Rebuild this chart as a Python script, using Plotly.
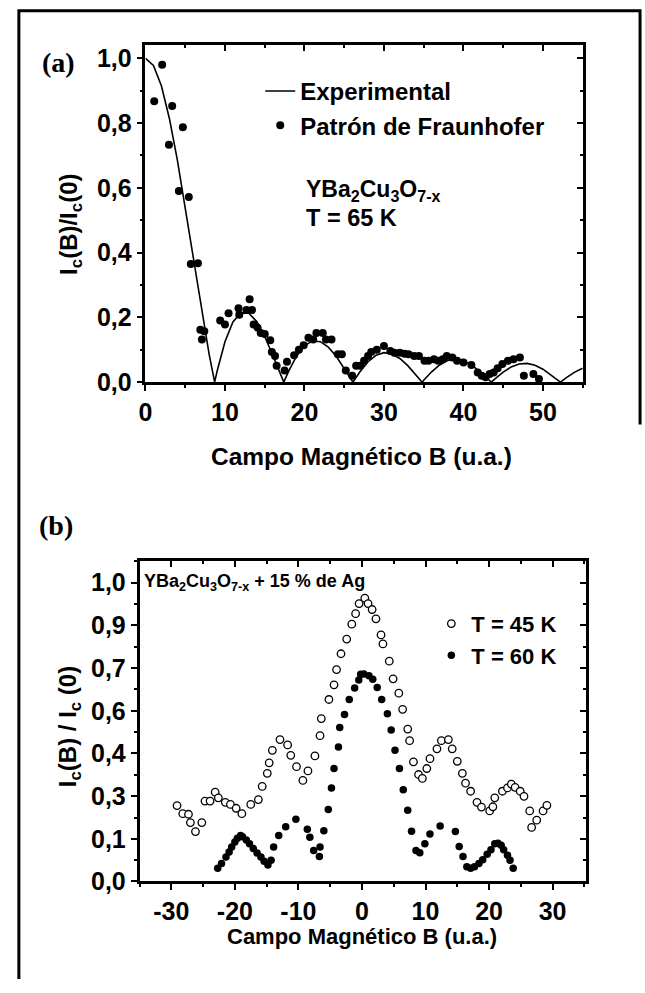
import plotly.graph_objects as go

W, H = 645, 993

# ---------------- Panel (a) data ----------------
exp_B = [0, 1, 2, 3, 4, 5, 6, 7, 8, 8.7,
         9, 10, 11, 12, 13, 14, 15, 16, 17, 17.4,
         18, 19, 20, 21, 22, 23, 24, 25, 26, 26.1,
         27, 28, 29, 30, 31, 32, 33, 34, 34.8,
         35, 36, 37, 38, 39, 40, 41, 42, 43, 43.5,
         44, 45, 46, 47, 48, 49, 50, 51, 52, 52.2,
         53, 54, 55]
exp_I = [1.0, 0.978, 0.915, 0.815, 0.687, 0.538, 0.382, 0.227, 0.087, 0.0,
         0.033, 0.125, 0.186, 0.214, 0.213, 0.187, 0.141, 0.084, 0.023, 0.0,
         0.033, 0.080, 0.113, 0.127, 0.125, 0.108, 0.080, 0.042, 0.004, 0.0,
         0.033, 0.063, 0.083, 0.091, 0.087, 0.073, 0.051, 0.023, 0.0,
         0.006, 0.032, 0.053, 0.067, 0.071, 0.066, 0.053, 0.034, 0.012, 0.0,
         0.011, 0.031, 0.047, 0.056, 0.058, 0.052, 0.040, 0.023, 0.004, 0.0,
         0.015, 0.031, 0.043]

fr_B = [1.1, 2.1, 2.95, 3.36, 4.2, 4.7, 5.45, 5.7, 6.6, 6.9, 7.1, 7.4,
        9.4, 10.0, 10.45, 11.7, 11.8, 12.7, 13.1, 13.4, 13.6, 14.1, 14.5, 15.0,
        15.7, 15.9, 16.3, 16.5, 17.5, 17.8, 18.7, 19.3, 19.9, 20.5, 21.1, 21.5,
        22.3, 22.7, 23.4, 24.2, 24.7, 25.2, 26.0, 26.5, 27.0, 27.5, 28.0, 28.4,
        29.1, 30.0, 30.8, 31.3, 32.0, 32.6, 33.1, 33.8, 34.4, 35.1, 35.6, 36.3,
        36.8, 37.4, 37.9, 38.6, 39.2, 40.0, 41.0, 41.8, 42.3, 42.8, 43.3, 43.8,
        44.3, 44.9, 45.6, 46.3, 47.1, 47.6, 48.8, 49.5]
fr_I = [0.867, 0.98, 0.733, 0.853, 0.59, 0.787, 0.572, 0.365, 0.367, 0.162, 0.132, 0.157,
        0.19, 0.178, 0.213, 0.228, 0.208, 0.223, 0.256, 0.223, 0.178, 0.168, 0.152, 0.149,
        0.129, 0.093, 0.081, 0.051, 0.036, 0.063, 0.083, 0.10, 0.114, 0.137, 0.132, 0.152,
        0.152, 0.132, 0.132, 0.086, 0.086, 0.036, 0.02, 0.051, 0.051, 0.066, 0.081, 0.093,
        0.10, 0.112, 0.096, 0.091, 0.091, 0.088, 0.086, 0.081, 0.081, 0.066, 0.066, 0.071,
        0.066, 0.071, 0.081, 0.076, 0.066, 0.061, 0.053, 0.030, 0.020, 0.015, 0.025, 0.030,
        0.043, 0.056, 0.066, 0.071, 0.076, 0.020, 0.025, 0.010]

a_xticks = [0, 10, 20, 30, 40, 50]
a_xticktext = ["0", "10", "20", "30", "40", "50"]
a_yticks = [0.0, 0.2, 0.4, 0.6, 0.8, 1.0]
a_yticktext = ["0,0", "0,2", "0,4", "0,6", "0,8", "1,0"]

# ---------------- Panel (b) data ----------------
t45_B = [-29.1, -28.2, -27.3, -27.0, -26.2, -25.2, -24.7, -23.9, -23.1, -22.6, -21.5,
         -20.7, -19.8, -18.9, -17.5, -16.3, -15.7, -14.9, -14.6, -14.1, -12.9, -11.7,
         -11.2, -10.3, -9.3, -8.5, -7.4, -6.6, -6.4, -5.2, -4.4, -4.0, -3.3, -2.4,
         -1.6, -1.0, -0.45, 0.45, 0.96, 1.6, 2.2, 3.0, 3.3, 4.3, 4.9, 5.8, 6.4, 7.2,
         7.5, 8.1, 8.9, 9.5, 10.2, 10.7, 11.8, 12.5, 13.6, 14.2, 15.0, 15.8, 16.3,
         17.1, 18.1, 18.8, 20.1, 20.6, 20.9, 22.1, 22.9, 23.5, 24.1, 24.9, 25.5,
         26.4, 26.7, 27.5, 28.5, 29.1]
t45_I = [0.254, 0.227, 0.225, 0.197, 0.167, 0.197, 0.269, 0.269, 0.299, 0.280, 0.265,
         0.258, 0.245, 0.227, 0.258, 0.274, 0.318, 0.362, 0.397, 0.439, 0.475, 0.457,
         0.422, 0.384, 0.338, 0.370, 0.420, 0.488, 0.545, 0.609, 0.658, 0.709, 0.762, 0.811,
         0.861, 0.896, 0.930, 0.948, 0.930, 0.910, 0.879, 0.825, 0.795, 0.737, 0.678, 0.630,
         0.576, 0.510, 0.471, 0.400, 0.358, 0.345, 0.378, 0.411, 0.444, 0.471, 0.475, 0.444,
         0.402, 0.362, 0.329, 0.302, 0.265, 0.249, 0.236, 0.250, 0.280, 0.302, 0.313, 0.326,
         0.315, 0.302, 0.285, 0.236, 0.181, 0.205, 0.236, 0.255]

t60_B = [-22.7, -22.1, -21.4, -20.9, -20.5, -20.0, -19.6, -19.1, -18.8, -18.2, -17.7,
         -17.1, -16.5, -15.9, -15.4, -14.8, -14.3, -13.9, -13.1, -12.0, -10.4, -8.6,
         -8.2, -7.6, -6.7, -6.6, -6.0, -5.3, -4.8, -4.4, -3.7, -3.5, -2.75, -2.0,
         -1.15, -0.5, -0.2, 0.3, 1.1, 1.7, 2.4, 3.1, 4.0, 4.6, 5.2, 5.9, 6.5, 7.2,
         7.8, 8.5, 9.1, 9.9, 10.7, 12.3, 14.7, 15.3, 15.9, 16.5, 17.1, 17.7, 18.4,
         19.0, 19.7, 20.3, 20.9, 21.4, 21.9, 22.3, 22.9, 23.3, 23.8]
t60_I = [0.044, 0.060, 0.082, 0.099, 0.115, 0.132, 0.145, 0.154, 0.150, 0.139, 0.126,
         0.110, 0.095, 0.082, 0.068, 0.055, 0.071, 0.115, 0.154, 0.183, 0.208, 0.175,
         0.148, 0.104, 0.084, 0.115, 0.170, 0.241, 0.313, 0.378, 0.450, 0.515, 0.559, 0.609,
         0.647, 0.674, 0.693, 0.694, 0.688, 0.677, 0.649, 0.609, 0.561, 0.507, 0.439, 0.378,
         0.307, 0.238, 0.168, 0.104, 0.096, 0.126, 0.159, 0.186, 0.167, 0.117, 0.084, 0.049,
         0.044, 0.049, 0.060, 0.073, 0.091, 0.106, 0.126, 0.128, 0.121, 0.106, 0.088, 0.071,
         0.044]

b_xticks = [-30, -20, -10, 0, 10, 20, 30]
b_xticktext = ["-30", "-20", "-10", "0", "10", "20", "30"]
b_yticks = [0.0, 0.143, 0.286, 0.429, 0.571, 0.714, 0.857, 1.0]
b_yticktext = ["0,0", "0,1", "0,3", "0,4", "0,6", "0,7", "0,9", "1,0"]
b_yminor = [0.071, 0.214, 0.357, 0.5, 0.643, 0.786, 0.929, 1.071]


def px(x):
    return x / W


def py(y):
    return 1 - y / H


FONT = "Liberation Sans, Arial, sans-serif"
SERIF = "Liberation Serif, Times New Roman, serif"
BLACK = "black"

fig = go.Figure()

# panel (a) traces
fig.add_trace(go.Scatter(x=exp_B, y=exp_I, mode="lines", name="Experimental",
                         line=dict(color=BLACK, width=1.6), xaxis="x", yaxis="y",
                         legend="legend", cliponaxis=False))
fig.add_trace(go.Scatter(x=fr_B, y=fr_I, mode="markers", name="Patrón de Fraunhofer",
                         marker=dict(color=BLACK, size=8, symbol="circle"),
                         xaxis="x", yaxis="y", legend="legend", cliponaxis=False))
# panel (b) traces
fig.add_trace(go.Scatter(x=t45_B, y=t45_I, mode="markers", name="T = 45 K",
                         marker=dict(color="white", size=7.5, symbol="circle",
                                     line=dict(color=BLACK, width=1.3)),
                         xaxis="x2", yaxis="y2", legend="legend2", cliponaxis=False))
fig.add_trace(go.Scatter(x=t60_B, y=t60_I, mode="markers", name="T = 60 K",
                         marker=dict(color=BLACK, size=7.5, symbol="circle"),
                         xaxis="x2", yaxis="y2", legend="legend2", cliponaxis=False))

# dummy traces to activate overlay (inward mirrored tick) axes
for xa, ya in [("x3", "y"), ("x", "y3"), ("x4", "y2"), ("x2", "y4")]:
    fig.add_trace(go.Scatter(x=[None], y=[None], xaxis=xa, yaxis=ya,
                             showlegend=False, hoverinfo="skip"))

tickfont = dict(family=FONT, size=25, color=BLACK, weight="bold")

a_dom_x = [px(140), px(582)]
a_dom_y = [py(387), py(45)]
b_dom_x = [px(134), px(585)]
b_dom_y = [py(894), py(569)]

common = dict(showline=True, linecolor=BLACK, linewidth=2.5, mirror=True,
              showgrid=False, zeroline=False, ticks="outside", ticklen=6,
              tickwidth=2, tickcolor=BLACK, tickfont=tickfont, fixedrange=True)

over = dict(showline=False, showgrid=False, zeroline=False, ticks="inside",
            ticklen=6, tickwidth=2, tickcolor=BLACK, showticklabels=False,
            fixedrange=True)

fig.update_layout(
    width=W, height=H,
    margin=dict(l=0, r=0, t=0, b=0),
    paper_bgcolor="white", plot_bgcolor="white",
    xaxis=dict(domain=a_dom_x, anchor="y", range=[0, 55],
               tickvals=a_xticks, ticktext=a_xticktext,
               minor=dict(dtick=5, tick0=0, ticks="outside", ticklen=3,
                          tickwidth=1.5, tickcolor=BLACK), **common),
    yaxis=dict(domain=a_dom_y, anchor="x", range=[0, 1.04],
               tickvals=a_yticks, ticktext=a_yticktext,
               minor=dict(dtick=0.1, tick0=0, ticks="outside", ticklen=3,
                          tickwidth=1.5, tickcolor=BLACK), **common),
    xaxis3=dict(overlaying="x", side="top", anchor="y", range=[0, 55],
                tickvals=a_xticks,
                minor=dict(dtick=5, tick0=0, ticks="inside", ticklen=3,
                           tickwidth=1.5, tickcolor=BLACK), **over),
    yaxis3=dict(overlaying="y", side="right", anchor="x", range=[0, 1.04],
                tickvals=a_yticks,
                minor=dict(dtick=0.1, tick0=0, ticks="inside", ticklen=3,
                           tickwidth=1.5, tickcolor=BLACK), **over),
    xaxis2=dict(domain=b_dom_x, anchor="y2", range=[-35, 35.2],
                tickvals=b_xticks, ticktext=b_xticktext,
                minor=dict(dtick=5, tick0=0, ticks="outside", ticklen=3,
                           tickwidth=1.5, tickcolor=BLACK), **common),
    yaxis2=dict(domain=b_dom_y, anchor="x2", range=[0, 1.071],
                tickvals=b_yticks, ticktext=b_yticktext,
                minor=dict(tickvals=b_yminor, ticks="outside", ticklen=3,
                           tickwidth=1.5, tickcolor=BLACK), **common),
    xaxis4=dict(overlaying="x2", side="top", anchor="y2", range=[-35, 35.2],
                tickvals=b_xticks,
                minor=dict(dtick=5, tick0=0, ticks="inside", ticklen=3,
                           tickwidth=1.5, tickcolor=BLACK), **over),
    yaxis4=dict(overlaying="y2", side="right", anchor="x2", range=[0, 1.071],
                tickvals=b_yticks,
                minor=dict(tickvals=b_yminor, ticks="inside", ticklen=3,
                           tickwidth=1.5, tickcolor=BLACK), **over),
    legend=dict(x=px(256), y=py(69), xanchor="left", yanchor="top",
                bgcolor="rgba(0,0,0,0)", borderwidth=0, itemsizing="trace",
                tracegroupgap=0,
                font=dict(family=FONT, size=24, color=BLACK, weight="bold")),
    legend2=dict(x=px(429), y=py(611), xanchor="left", yanchor="top",
                 bgcolor="rgba(0,0,0,0)", borderwidth=0, itemsizing="trace",
                 tracegroupgap=0,
                 font=dict(family=FONT, size=22, color=BLACK, weight="bold")),
    showlegend=True,
)

ann = []


def label(text, x, y, size, xanchor="center", family=FONT, angle=0):
    ann.append(dict(text=text, x=px(x), y=py(y), xref="paper", yref="paper",
                    xanchor=xanchor, yanchor="middle", showarrow=False,
                    textangle=angle,
                    font=dict(family=family, size=size, color=BLACK, weight="bold")))


label("(a)", 52, 62, 28, family=SERIF)
label("(b)", 50, 533, 28, family=SERIF)
label("I<sub>c</sub>(B)/I<sub>c</sub>(0)", 64, 227, 24, angle=-90)
label("Campo Magnético B (u.a.)", 358, 462, 24.5)
label("YBa<sub>2</sub>Cu<sub>3</sub>O<sub>7-x</sub>", 300, 192, 23, xanchor="left")
label("T = 65 K", 300, 220, 23.5, xanchor="left")
label("I<sub>c</sub>(B) / I<sub>c</sub> (0)", 64, 737, 24, angle=-90)
label("Campo Magnético B (u.a.)", 359, 950, 22)
label("YBa<sub>2</sub>Cu<sub>3</sub>O<sub>7-x</sub> + 15 % de Ag", 136, 590, 18,
      xanchor="left")

fig.update_layout(annotations=ann)

# outer frame of the figure
fig.add_shape(type="path", xref="paper", yref="paper",
              path=f"M {px(12)} {py(993)} L {px(12)} {py(10)} L {px(640)} {py(10)} L {px(640)} {py(430)}",
              line=dict(color=BLACK, width=3))

fig.write_html("out.html")
